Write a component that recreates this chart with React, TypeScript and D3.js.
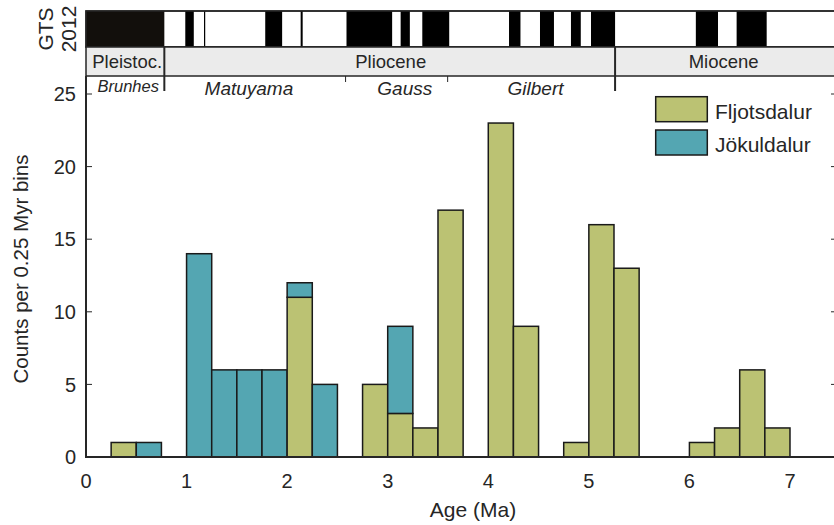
import React from 'react';
import * as d3 from 'd3';

// Histogram bins (bin start, Ma; bin width 0.25 Myr)
const binStarts = [0.25, 0.5, 1.0, 1.25, 1.5, 1.75, 2.0, 2.25, 2.75, 3.0, 3.25, 3.5, 4.0, 4.25, 4.75, 5.0, 5.25, 6.0, 6.25, 6.5, 6.75];
const fljotsdalur = [1, 0, 0, 0, 0, 0, 11, 0, 5, 3, 2, 17, 23, 9, 1, 16, 13, 1, 2, 6, 2];
const jokuldalur = [0, 1, 14, 6, 6, 6, 1, 5, 0, 6, 0, 0, 0, 0, 0, 0, 0, 0, 0, 0, 0];
const binWidth = 0.25;

const xTicks = [0, 1, 2, 3, 4, 5, 6, 7];
const yTicks = [0, 5, 10, 15, 20, 25];

// GTS 2012 normal polarity intervals (Ma)
const normalStart = [0, 0.988, 1.173, 1.778, 2.128, 2.581, 3.116, 3.33, 4.187, 4.493, 4.799, 4.997, 6.033, 6.436];
const normalEnd = [0.781, 1.072, 1.185, 1.945, 2.148, 3.032, 3.207, 3.596, 4.3, 4.631, 4.896, 5.235, 6.252, 6.733];

// Epochs
const epochNames = ['Pleistoc.', 'Pliocene', 'Miocene'];
const epochLabelAge = [0.41, 3.03, 6.34];
const epochBoundaries = [0.781, 5.235];

// Magnetic chrons
const chronNames = ['Brunhes', 'Matuyama', 'Gauss', 'Gilbert'];
const chronLabelAge = [0.42, 1.62, 3.17, 4.47];
const chronMajorTicks = [0.781, 5.235];
const chronMinorTicks = [2.581, 3.596];

const legendNames = ['Fljotsdalur', 'Jökuldalur'];

const W = 834;
const H = 525;
const FCOL = '#bbc273';
const JCOL = '#54a6b2';
const INK = '#262626';
const FONT = '"Liberation Sans", Arial, Helvetica, sans-serif';

export default function App() {
  const x = d3.scaleLinear().domain([0, 7.5]).range([86, 86 + 7.5 * 100.57]);
  const y = d3.scaleLinear().domain([0, 25]).range([457, 94]);
  const gts = d3.scaleLinear().domain([0, 7.5]).range([85.3, 85.3 + 7.5 * 101.2]);

  const plotTop = 76;
  const plotLeft = x(0);
  const plotRight = 837;
  const gtsTop = 11;
  const gtsBot = 47;
  const epochBot = 76;

  return (
    <svg width={W} height={H} style={{ position: 'absolute', left: 0, top: 0, background: '#fff' }} fontFamily={FONT}>
      {/* GTS polarity bar */}
      <rect x={plotLeft} y={gtsTop} width={W - plotLeft + 4} height={gtsBot - gtsTop} fill="#fff" stroke={INK} strokeWidth={1.5} />
      {normalStart.map((s, i) => {
        const x0 = Math.max(plotLeft, gts(s));
        const x1 = gts(normalEnd[i]);
        return <rect key={'n' + i} x={x0} y={gtsTop} width={x1 - x0} height={gtsBot - gtsTop} fill={i === 0 ? '#120f0c' : '#000'} />;
      })}
      <rect x={plotLeft} y={gtsTop} width={W - plotLeft + 4} height={gtsBot - gtsTop} fill="none" stroke={INK} strokeWidth={1.5} />
      <text transform={`translate(53,29) rotate(-90)`} textAnchor="middle" fontSize={21} fill={INK}>GTS</text>
      <text transform={`translate(75.5,29) rotate(-90)`} textAnchor="middle" fontSize={21} fill={INK}>2012</text>

      {/* Epoch row */}
      <rect x={plotLeft} y={gtsBot} width={W - plotLeft + 4} height={epochBot - gtsBot} fill="#ebebeb" stroke={INK} strokeWidth={1.5} />
      {epochBoundaries.map((b, i) => (
        <line key={'eb' + i} x1={gts(b)} x2={gts(b)} y1={gtsBot} y2={epochBot} stroke={INK} strokeWidth={2} />
      ))}
      {epochNames.map((n, i) => (
        <text key={'en' + i} x={x(epochLabelAge[i])} y={68} textAnchor="middle" fontSize={18.5} fill={INK}>{n}</text>
      ))}

      {/* Chron row */}
      {chronMajorTicks.map((b, i) => (
        <line key={'cm' + i} x1={gts(b)} x2={gts(b)} y1={epochBot} y2={91} stroke={INK} strokeWidth={2} />
      ))}
      {chronMinorTicks.map((b, i) => (
        <line key={'cn' + i} x1={x(b)} x2={x(b)} y1={epochBot} y2={82} stroke={INK} strokeWidth={1} />
      ))}
      {chronNames.map((n, i) => (
        <text key={'cl' + i} x={x(chronLabelAge[i])} y={i === 0 ? 91.5 : 94.5} textAnchor="middle" fontStyle="italic" fontSize={i === 0 ? 16.5 : 19} fill={INK}>{n}</text>
      ))}

      {/* Bars */}
      {binStarts.map((b, i) => {
        const f = fljotsdalur[i];
        const j = jokuldalur[i];
        const x0 = x(b);
        const x1 = x(b + binWidth);
        return (
          <g key={'b' + i}>
            {f > 0 && <rect x={x0} y={y(f)} width={x1 - x0} height={y(0) - y(f)} fill={FCOL} stroke="#1a1a1a" strokeWidth={1.5} />}
            {j > 0 && <rect x={x0} y={y(f + j)} width={x1 - x0} height={y(f) - y(f + j)} fill={JCOL} stroke="#1a1a1a" strokeWidth={1.5} />}
          </g>
        );
      })}

      {/* Axes */}
      <line x1={plotLeft} x2={plotLeft} y1={plotTop} y2={y(0)} stroke={INK} strokeWidth={2} />
      <line x1={plotRight} x2={plotRight} y1={plotTop} y2={y(0)} stroke={INK} strokeWidth={2} />
      <line x1={plotLeft - 1} x2={W + 4} y1={y(0)} y2={y(0)} stroke={INK} strokeWidth={2} />
      {yTicks.map((t) => (
        <g key={'yt' + t}>
          <line x1={plotLeft} x2={plotLeft + 6} y1={y(t)} y2={y(t)} stroke={INK} strokeWidth={1} />
          <line x1={plotRight - 6} x2={plotRight} y1={y(t)} y2={y(t)} stroke={INK} strokeWidth={1} />
          <text x={76} y={y(t)} dy="0.36em" textAnchor="end" fontSize={20} fill={INK}>{t}</text>
        </g>
      ))}
      {xTicks.map((t) => (
        <text key={'xt' + t} x={x(t)} y={488} textAnchor="middle" fontSize={20} fill={INK}>{t}</text>
      ))}
      <text x={473} y={516.5} textAnchor="middle" fontSize={21} fill={INK}>Age (Ma)</text>
      <text transform={`translate(28,269) rotate(-90)`} textAnchor="middle" fontSize={20.5} fill={INK}>Counts per 0.25 Myr bins</text>

      {/* Legend */}
      {legendNames.map((n, i) => (
        <g key={'lg' + i}>
          <rect x={655.7} y={96.7 + i * 33.3} width={51.6} height={25} fill={i === 0 ? FCOL : JCOL} stroke="#1a1a1a" strokeWidth={1.5} />
          <text x={715} y={119 + i * 33} fontSize={21} fill={INK}>{n}</text>
        </g>
      ))}
    </svg>
  );
}
